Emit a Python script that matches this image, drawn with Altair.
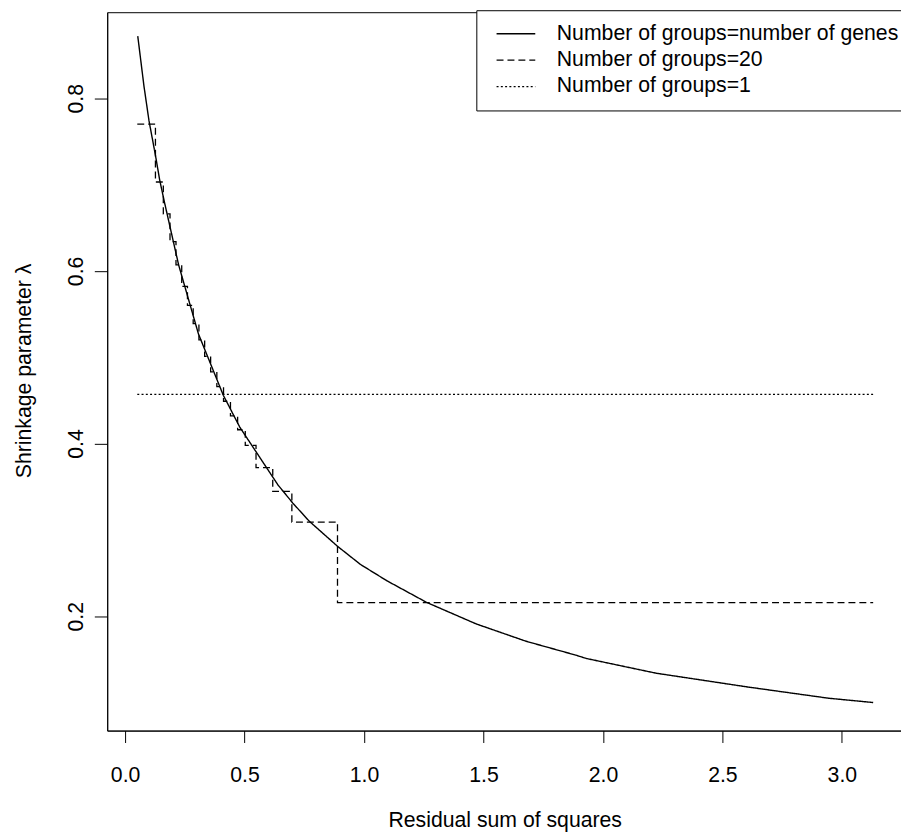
import altair as alt
import pandas as pd

# ---- data ----
series_names = [
    "Number of groups=number of genes",
    "Number of groups=20",
    "Number of groups=1",
]

# solid curve: one group per gene
rss_genes = [0.053, 0.079, 0.100, 0.127, 0.145, 0.166, 0.224, 0.307, 0.411, 0.480,
             0.640, 0.702, 0.771, 0.889, 0.985, 1.096, 1.262, 1.470, 1.678, 1.885,
             1.931, 2.222, 2.606, 2.944, 3.131]
lambda_genes = [0.872, 0.814, 0.774, 0.734, 0.705, 0.678, 0.607, 0.527, 0.456, 0.419,
                0.352, 0.331, 0.310, 0.281, 0.260, 0.241, 0.216, 0.191, 0.171, 0.155,
                0.151, 0.134, 0.118, 0.105, 0.100]

# dashed step function: 20 groups (group boundaries and group lambda)
group20_breaks = [0.051, 0.127, 0.160, 0.188, 0.213, 0.237, 0.261, 0.285, 0.309, 0.333,
                  0.358, 0.384, 0.412, 0.441, 0.471, 0.503, 0.548, 0.618, 0.698, 0.889,
                  3.131]
group20_lambda = [0.770, 0.703, 0.666, 0.634, 0.607, 0.582, 0.560, 0.539, 0.520, 0.501,
                  0.483, 0.466, 0.449, 0.432, 0.416, 0.398, 0.372, 0.3445, 0.309, 0.2157]

# dotted line: a single group
group1_rss = [0.051, 3.131]
group1_lambda = [0.457, 0.457]

# ---- tables ----
df_genes = pd.DataFrame({"rss": rss_genes, "lam": lambda_genes, "series": series_names[0]})
df_20 = pd.DataFrame({
    "rss": group20_breaks,
    "lam": group20_lambda + [group20_lambda[-1]],
    "series": series_names[1],
})
df_1 = pd.DataFrame({"rss": group1_rss, "lam": group1_lambda, "series": series_names[2]})

FONT = "Liberation Sans"
FS = 21.4

x_enc = alt.X(
    "rss:Q",
    scale=alt.Scale(domain=[-0.0748, 3.2558], nice=False, zero=False),
    axis=alt.Axis(
        values=[0.0, 0.5, 1.0, 1.5, 2.0, 2.5, 3.0], format=".1f",
        title="Residual sum of squares", grid=False,
        tickSize=12, labelPadding=22, labelFontSize=FS, labelColor="black",
        tickColor="black", domainColor="black", tickWidth=1, domainWidth=1,
        titleFontSize=FS, titleFontWeight="normal", titleColor="black",
        titleX=400.6, titleY=97, titleBaseline="alphabetic", titleAlign="center",
    ),
)
y_enc = alt.Y(
    "lam:Q",
    scale=alt.Scale(domain=[0.0675, 0.89966], nice=False, zero=False),
    axis=alt.Axis(
        values=[0.2, 0.4, 0.6, 0.8], format=".1f",
        title="Shrinkage parameter λ", grid=False,
        tickSize=13, labelPadding=7.5, labelFontSize=FS, labelColor="black",
        labelAngle=270, labelAlign="center", labelBaseline="bottom",
        tickColor="black", domainColor="black", tickWidth=1, domainWidth=1,
        titleFontSize=FS, titleFontWeight="normal", titleColor="black",
        titleAngle=270, titleX=-83, titleY=361, titleBaseline="middle", titleAlign="center",
    ),
)
dash_enc = alt.StrokeDash(
    "series:N",
    scale=alt.Scale(domain=series_names, range=[[1, 0], [7, 4], [2, 2.3]]),
    legend=alt.Legend(
        title=None, orient="none", legendX=372, legendY=-2,
        padding=13, labelOffset=46.7, labelFontSize=FS, labelColor="black", labelFont=FONT,
        symbolType="M-0.4125,0H4.4625", symbolSize=256, symbolStrokeWidth=1.3,
        symbolStrokeColor="black", symbolFillColor="transparent",
        rowPadding=3.6, labelLimit=0,
        strokeColor="black", fillColor="white", cornerRadius=0,
    ),
)

curve = alt.Chart(df_genes).mark_line(color="black", strokeWidth=1.4).encode(
    x=x_enc, y=y_enc, strokeDash=dash_enc)
steps = alt.Chart(df_20).mark_line(color="black", strokeWidth=1.3, interpolate="step-after").encode(
    x=x_enc, y=y_enc, strokeDash=dash_enc)
flat = alt.Chart(df_1).mark_line(color="black", strokeWidth=1.3).encode(
    x=x_enc, y=y_enc, strokeDash=dash_enc)

chart = alt.layer(curve, steps, flat).properties(
    width=802, height=724,
    padding={"left": 100, "top": 1, "right": -2, "bottom": 104},
    autosize="none",
).configure(font=FONT).configure_view(stroke="black", strokeWidth=1)

chart.save("out.html", embed_options={"renderer": "svg", "actions": False})
